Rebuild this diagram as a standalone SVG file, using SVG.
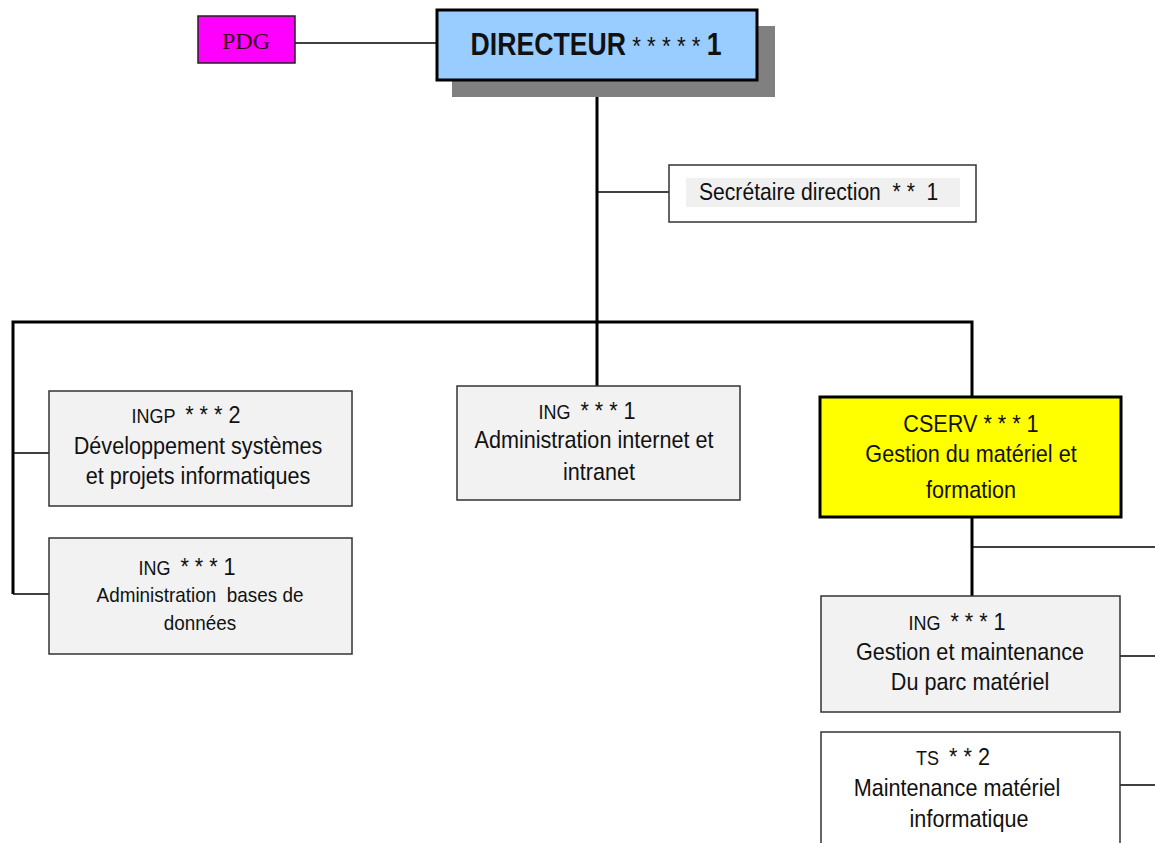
<svg xmlns="http://www.w3.org/2000/svg" width="1155" height="843" viewBox="0 0 1155 843">
  <style>
    .t { font-family: "Liberation Sans", Arial, sans-serif; fill: #111; text-anchor: middle; font-size: 24px; white-space: pre; }
    .s { font-size: 20px; }
    .box { fill: #f2f2f2; stroke: #333; stroke-width: 1.5; }
    .wbox { fill: #ffffff; stroke: #333; stroke-width: 1.5; }
    .thick { stroke: #000; stroke-width: 3; fill: none; }
    .thin { stroke: #000; stroke-width: 1.5; fill: none; }
  </style>
  <rect width="1155" height="843" fill="#ffffff"/>

  <!-- connectors -->
  <g id="connectors">
    <line class="thin" x1="295" y1="43" x2="437" y2="43"/>
    <line class="thick" x1="597" y1="80" x2="597" y2="386"/>
    <line class="thin" x1="597" y1="192" x2="669" y2="192"/>
    <polyline class="thick" points="13,594 13,322 972,322 972,397"/>
    <line class="thin" x1="13" y1="453" x2="49" y2="453"/>
    <line class="thin" x1="13" y1="594" x2="49" y2="594"/>
    <line class="thick" x1="972" y1="517" x2="972" y2="596"/>
    <line class="thin" x1="972" y1="547" x2="1155" y2="547"/>
    <line class="thin" x1="1120" y1="656" x2="1155" y2="656"/>
    <line class="thin" x1="1120" y1="785" x2="1155" y2="785"/>
  </g>

  <g id="pdg">
    <rect x="198" y="16" width="97" height="47" fill="#ff00ff" stroke="#222" stroke-width="1.5"/>
    <text x="246" y="49" font-family="'Liberation Serif', 'Times New Roman', serif" font-size="24" text-anchor="middle" fill="#3a0020">PDG</text>
  </g>

  <g id="directeur">
    <rect x="452" y="26" width="323" height="71" fill="#808080"/>
    <rect x="437" y="10" width="320" height="70" fill="#99ccff" stroke="#000" stroke-width="3"/>
    <text class="t" transform="translate(596,55) scale(0.86,1)" style="font-size:31px" font-weight="bold">DIRECTEUR<tspan font-size="26" font-weight="normal"> * * * * * </tspan>1</text>
  </g>

  <g id="secretaire">
    <rect class="wbox" x="669" y="165" width="307" height="57"/>
    <rect x="686" y="178" width="274" height="29" fill="#f0f0f0"/>
    <text class="t" transform="translate(699,200) scale(0.88,1)" style="text-anchor:start">Secrétaire direction  * *  1</text>
  </g>

  <g id="ingp-dev">
    <rect class="box" x="49" y="391" width="303" height="115"/>
    <text class="t" transform="translate(186,423) scale(0.9,1)"><tspan class="s">INGP  </tspan>* * * 2</text>
    <text class="t" transform="translate(198,454) scale(0.9,1)">Développement systèmes</text>
    <text class="t" transform="translate(198,484) scale(0.9,1)">et projets informatiques</text>
  </g>

  <g id="ing-bdd">
    <rect class="box" x="49" y="538" width="303" height="116"/>
    <text class="t" transform="translate(187,575) scale(0.9,1)"><tspan class="s">ING  </tspan>* * * 1</text>
    <text class="t" transform="translate(200,602) scale(0.9,1)" style="font-size:21px">Administration  bases de</text>
    <text class="t" transform="translate(200,630) scale(0.9,1)" style="font-size:21px">données</text>
  </g>

  <g id="ing-internet">
    <rect class="box" x="457" y="386" width="283" height="114"/>
    <text class="t" transform="translate(587,419) scale(0.9,1)"><tspan class="s">ING  </tspan>* * * 1</text>
    <text class="t" transform="translate(594,448) scale(0.9,1)">Administration internet et</text>
    <text class="t" transform="translate(599,480) scale(0.9,1)">intranet</text>
  </g>

  <g id="cserv">
    <rect x="820" y="397" width="301" height="120" fill="#ffff00" stroke="#000" stroke-width="3"/>
    <text class="t" transform="translate(971,432) scale(0.9,1)">CSERV * * * 1</text>
    <text class="t" transform="translate(971,462) scale(0.9,1)">Gestion du matériel et</text>
    <text class="t" transform="translate(971,498) scale(0.9,1)">formation</text>
  </g>

  <g id="ing-parc">
    <rect class="box" x="821" y="596" width="299" height="116"/>
    <text class="t" transform="translate(957,630) scale(0.9,1)"><tspan class="s">ING  </tspan>* * * 1</text>
    <text class="t" transform="translate(970,660) scale(0.9,1)">Gestion et maintenance</text>
    <text class="t" transform="translate(970,690) scale(0.9,1)">Du parc matériel</text>
  </g>

  <g id="ts-maintenance">
    <rect class="wbox" x="821" y="732" width="299" height="120"/>
    <text class="t" transform="translate(953,765) scale(0.9,1)"><tspan class="s">TS  </tspan>* * 2</text>
    <text class="t" transform="translate(957,796) scale(0.9,1)">Maintenance matériel</text>
    <text class="t" transform="translate(969,827) scale(0.9,1)">informatique</text>
  </g>
</svg>
